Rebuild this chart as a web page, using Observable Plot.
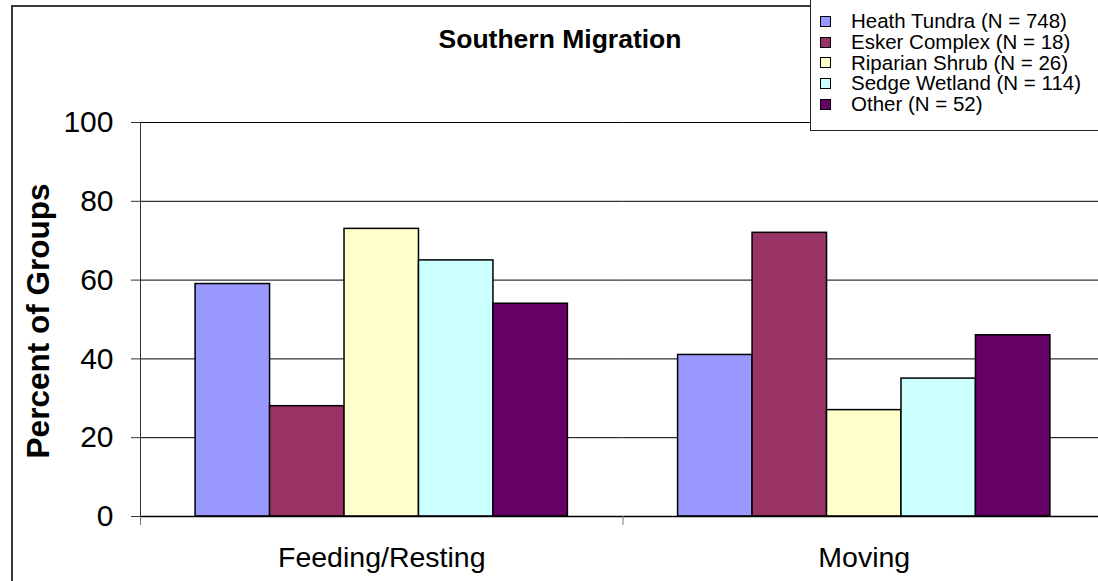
<!DOCTYPE html>
<html>
<head>
<meta charset="utf-8">
<script src="https://cdn.jsdelivr.net/npm/d3@7"></script>
<script src="https://cdn.jsdelivr.net/npm/@observablehq/plot@0.6"></script>
<style>
  html, body { margin: 0; padding: 0; background: #fff; overflow: hidden; }
  #chart { position: relative; width: 1098px; height: 581px; overflow: hidden; background: #fff;
           font-family: Arial, "Liberation Sans", sans-serif; }
  #plot { position: absolute; left: 0; top: 0; }
  #plot svg { max-width: none !important; }
  #border { position: absolute; left: 11px; top: 5px; width: 2000px; height: 2000px;
            border-left: 2px solid #3a3a3a; border-top: 2px solid #3a3a3a; box-sizing: border-box; }
  #title { position: absolute; left: 360px; width: 400px; top: 24px; text-align: center;
           font-weight: bold; font-size: 26.5px; line-height: 30px; color: #000; }
  #ylabel { position: absolute; left: 39px; top: 321px; transform: translate(-50%, -50%) rotate(-90deg);
            white-space: nowrap; font-weight: bold; font-size: 31.5px; line-height: 1; color: #000; }
  #legend { position: absolute; left: 810px; top: -1px; width: 400px; height: 132px; box-sizing: border-box;
            border: 1.5px solid #222; background: #fff; padding-top: 11px; }
  .row { display: flex; align-items: center; height: 20.75px; line-height: 20.75px; font-size: 20.5px; white-space: nowrap; }
  .sw { width: 9px; height: 9px; border: 1px solid #000; margin-left: 9px; margin-right: 20px; flex: none; }
</style>
</head>
<body>
<div id="chart">
  <div id="border"></div>
  <div id="plot"></div>
  <div id="title">Southern Migration</div>
  <div id="ylabel">Percent of Groups</div>
  <div id="legend"></div>
</div>
<script>
// Data
const activities = ["Feeding/Resting", "Moving"];
const habitats = [
  "Heath Tundra (N = 748)",
  "Esker Complex (N = 18)",
  "Riparian Shrub (N = 26)",
  "Sedge Wetland (N = 114)",
  "Other (N = 52)"
];
const heathTundra   = [59, 41];
const eskerComplex  = [28, 72];
const riparianShrub = [73, 27];
const sedgeWetland  = [65, 35];
const other         = [54, 46];
const colors = ["#9999FF", "#993366", "#FFFFCC", "#CCFFFF", "#660066"];
const yTicks = [0, 20, 40, 60, 80, 100];

const seriesValues = [heathTundra, eskerComplex, riparianShrub, sedgeWetland, other];
const table = [];
activities.forEach((a, i) => {
  habitats.forEach((h, j) => table.push({activity: a, habitat: h, value: seriesValues[j][i]}));
});

const W = 1105, H = 581, ML = 140, MR = 0, MT = 122, MB = 65;
const facetW = (W - ML - MR) / activities.length;

const chart = Plot.plot({
  width: W, height: H,
  marginLeft: ML, marginRight: MR, marginTop: MT, marginBottom: MB,
  style: {fontFamily: "Arial, 'Liberation Sans', sans-serif", background: "transparent", color: "#000", maxWidth: "none"},
  fx: {domain: activities, padding: 0, round: false},
  x: {domain: habitats, paddingInner: 0, paddingOuter: 0.74, round: false, axis: null},
  y: {domain: [0, 100]},
  color: {domain: habitats, range: colors},
  marks: [
    Plot.ruleY(yTicks.filter(d => d > 0), {stroke: "#000", strokeWidth: 1}),
    Plot.barY(table, {fx: "activity", x: "habitat", y: "value", fill: "habitat",
                      stroke: "#000", strokeWidth: 1.5, inset: 0}),
    Plot.ruleY([0], {stroke: "#000", strokeWidth: 1.5}),
    Plot.frame({anchor: "left", facetAnchor: "left", stroke: "#333"}),
    Plot.axisY({ticks: yTicks, tickSize: 9, tickPadding: 18, fontSize: 30, label: null, stroke: "#333"}),
    Plot.axisFx({anchor: "bottom", tickSize: 9, dx: -facetW / 2, tickFormat: () => "", label: null, stroke: "#777"}),
    Plot.axisFx({anchor: "bottom", tickSize: 0, tickPadding: 30, fontSize: 28.5, label: null})
  ]
});
document.getElementById("plot").appendChild(chart);

// Legend
const legend = d3.select("#legend");
habitats.forEach((h, i) => {
  const row = legend.append("div").attr("class", "row");
  row.append("div").attr("class", "sw").style("background", colors[i]);
  row.append("span").text(h);
});
</script>
</body>
</html>
